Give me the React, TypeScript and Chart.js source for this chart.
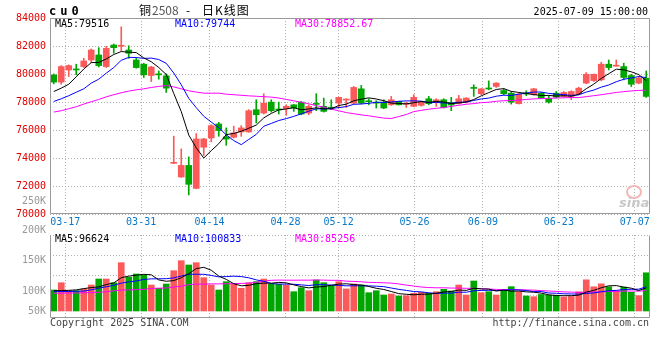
import React, { useEffect, useRef } from "react";
import { Chart, registerables } from "chart.js";

Chart.register(...registerables);

// ---------------- data ----------------
const dates = [
  "03-13","03-14","03-17","03-18","03-19","03-20","03-21","03-24","03-25","03-26",
  "03-27","03-28","03-31","04-01","04-02","04-03","04-07","04-08","04-09","04-10",
  "04-11","04-14","04-15","04-16","04-17","04-18","04-21","04-22","04-23","04-24",
  "04-25","04-28","04-29","04-30","05-06","05-07","05-08","05-09","05-12","05-13",
  "05-14","05-15","05-16","05-19","05-20","05-21","05-22","05-23","05-26","05-27",
  "05-28","05-29","05-30","06-03","06-04","06-05","06-06","06-09","06-10","06-11",
  "06-12","06-13","06-16","06-17","06-18","06-19","06-20","06-23","06-24","06-25",
  "06-26","06-27","06-30","07-01","07-02","07-03","07-04","07-07","07-08","07-09",
];

const opens = [
  79940,79420,80290,80310,80530,81000,81360,80530,82070,81980,
  81715,81000,80700,79890,79960,79870,73620,72640,73470,71830,
  74770,75430,76430,75500,75480,75860,75860,77450,77210,77990,
  77480,77520,77800,77990,77210,77870,77690,77600,77920,78140,
  77920,78940,78060,77950,77990,77800,78040,77830,77690,77760,
  78230,77990,78160,77950,77880,77990,79010,78590,78960,79110,
  78820,78630,77880,78610,78520,78630,78230,78630,78400,78400,
  78590,79350,79530,79580,80700,80560,80530,79890,79350,79700,
];
const highs = [
  80000,80600,80650,80700,81120,81790,81880,81980,82140,83370,
  82020,81120,80770,80550,80220,80010,75560,74650,74080,75740,
  75410,76380,76550,76150,76270,76310,77450,78160,78590,78160,
  77990,77800,77820,78040,77800,78590,78280,78160,78350,78230,
  79110,79180,78230,78090,78160,78400,78060,77990,78520,78050,
  78400,78230,78230,78330,78470,78300,79230,78960,79510,79380,
  78940,78750,78600,78800,78980,78680,78470,78750,78750,78800,
  79060,80100,80000,80840,81000,81000,80770,79980,79820,80220,
];
const lows = [
  79300,79270,79820,79940,80460,80815,80500,80460,81480,81670,
  81120,80410,79750,79460,79630,78680,73600,72620,71360,71800,
  74180,75150,75550,74910,75430,75550,75840,76500,77140,77280,
  77140,77050,77330,77090,77090,77380,77280,77450,77570,77610,
  77870,77870,77800,77570,77520,77760,77780,77610,77660,77700,
  77800,77690,77570,77380,77850,77930,78400,78520,78870,79040,
  78520,77850,77850,78450,78480,78240,77920,78280,78350,78160,
  78520,79300,79460,79510,80290,80550,79580,79110,79300,78330,
];
const closes = [
  79420,80530,80600,80290,80930,81715,80600,81830,81880,82000,
  81480,80460,79940,80500,79940,78990,73680,73470,72120,75360,
  75360,76310,75960,75350,75790,76150,77380,77090,77920,77380,
  77430,77690,77570,77140,77690,77830,77330,77560,78330,78170,
  79040,77920,78020,77920,77570,78160,77800,77870,78330,78000,
  77880,78160,77610,77780,78230,78280,78970,78940,78930,79350,
  78590,77990,78560,78570,78940,78280,77990,78350,78680,78750,
  78990,79980,79980,80700,80460,80600,79750,79270,79700,78400,
];

const ma5 = [
  78750,78990,79270,79800,80354,80813,80827,81073,81391,81605,
  81558,81530,81152,80876,80464,79966,78610,77316,75640,74724,
  73998,74524,75022,75668,75754,75912,76126,76352,76866,77184,
  77440,77502,77598,77442,77504,77584,77512,77510,77748,77844,
  78086,78204,78296,78214,78094,77918,77894,77864,77946,78032,
  77976,78048,77996,77886,77932,78012,78174,78440,78670,78894,
  78956,78760,78684,78612,78530,78468,78468,78426,78448,78410,
  78552,78950,79276,79680,80022,80344,80298,80156,79956,79516,
];
const ma10 = [
  78040,78230,78450,78700,78940,79350,79630,80060,80460,80980,
  81186,81179,81113,81134,81035,80762,80070,79234,78258,77594,
  76982,76567,76169,75654,75239,74955,75325,75687,76267,76469,
  76676,76814,76975,77154,77344,77512,77507,77554,77595,77674,
  77835,77858,77903,77981,77969,78002,78049,78080,78080,78063,
  77947,77971,77930,77916,77982,77994,78111,78218,78278,78413,
  78484,78467,78562,78641,78712,78712,78614,78555,78530,78470,
  78510,78709,78851,79063,79215,79447,79623,79715,79817,79744,
];
const ma30 = [
  77280,77380,77520,77660,77850,78020,78180,78370,78520,78660,
  78780,78870,78940,79040,79110,79180,79080,78940,78800,78710,
  78630,78630,78630,78560,78520,78480,78440,78410,78380,78348,
  78281,78186,78085,77980,77872,77742,77633,77491,77373,77245,
  77164,77079,77015,76929,76850,76822,76960,77107,77314,77402,
  77486,77548,77603,77684,77765,77836,77889,77951,77985,78051,
  78090,78100,78133,78181,78223,78238,78260,78286,78298,78317,
  78315,78384,78449,78520,78600,78680,78740,78790,78825,78852.67,
];

const volumes = [
  87500,117900,84600,84600,91700,108300,133300,133300,117900,201300,
  140400,154200,150000,108300,94600,112500,167900,209600,191700,201300,
  138800,108300,87500,122100,112500,94600,117900,122100,133300,111300,
  111300,108300,80400,97100,84600,129200,117900,106300,122100,91700,
  112500,108300,76300,84600,66700,70800,62500,63800,73800,77900,
  73800,80400,90400,83300,108300,66700,125000,76300,80400,66700,
  87500,101300,80400,62500,59600,68800,65800,65800,58300,60400,
  80000,130000,100800,113300,100800,84200,99200,77900,63800,159200,
];
const volMa5 = [
  85000,85000,86000,88000,93300,97400,100500,110200,116900,138800,
  145200,149400,152800,150800,129500,123900,126700,138600,155300,176600,
  181900,169900,145500,131600,113800,105000,106900,113800,116100,115800,
  119200,117300,108900,101700,96300,99900,101800,107000,112000,113400,
  110100,108200,102200,94700,89700,81300,72200,69700,67500,69800,
  70400,73900,79300,81200,87200,85800,94700,91900,91300,83000,
  87200,82400,83300,79700,78300,74500,67400,64500,63700,63800,
  66100,78900,85900,96900,105000,105800,99700,95100,85200,96624,
];
const volMa10 = [
  81000,81000,81500,82000,83000,88000,95000,101000,107000,116000,
  121300,125000,131500,133900,134200,134600,138000,145700,153100,153100,
  152900,148300,142100,143400,145200,143400,138400,129700,123800,114800,
  112100,112100,111400,108900,106100,109600,109600,108000,106900,104900,
  105000,105000,104600,103400,101600,95700,90200,85900,81100,79700,
  75900,73100,74500,74300,78500,78100,84300,85600,86300,85100,
  86500,88600,87600,85500,80600,80900,74900,73900,71700,71000,
  70300,73200,75200,80300,84400,85900,89300,90500,91000,100833,
];
const volMa30 = [
  74000,74000,75000,75000,76000,77000,78000,80000,84000,87000,
  88000,89000,90000,94000,95000,96000,100000,103000,110000,112000,
  112000,113000,113000,114000,114000,115000,116000,120000,124000,128000,
  128800,128500,128300,128700,128500,129200,128700,127800,127900,124300,
  123300,121800,119300,118600,117600,116200,112700,107900,103900,99800,
  97700,96700,96800,95500,95400,94500,94700,93200,91400,89900,
  89100,88900,88900,87700,86900,84900,83200,81800,79700,78600,
  77500,78300,79100,80000,81200,81600,82900,83300,83000,85256,
];

const dateTicks = ["03-17","03-31","04-14","04-28","05-12","05-26","06-09","06-23","07-07"];
const priceMin = 70000;
const priceMax = 84000;
const priceStep = 2000;
const volumeAxisLabels = ["200K", "150K", "100K", "50K"];
const strayLabel = "250K";

// ---------------- styles ----------------
const MONO = '"DejaVu Sans Mono", "Liberation Mono", monospace';
const CJK = '"Noto Sans CJK SC", "Noto Sans", sans-serif';
const UP = "#fa5a5a";
const DOWN = "#00a600";
const GRID = "#b0b0b0";
const FRAME = "#9a9a9a";
const DATE_BLUE = "#0a78c8";
const VOL_MIN = -29200;
const VOL_MAX = 316700;
const VOL_GRID_STEP = 84600;

const candleColors = dates.map((_, i) => (closes[i] >= opens[i] ? UP : DOWN));

function framePlugin(dottedTop: boolean) {
  return {
    id: "frame",
    afterDraw(chart: any) {
      const { ctx, chartArea: a } = chart;
      const l = Math.round(a.left) + 0.5;
      const r = Math.round(a.right) - 0.5;
      const t = Math.round(a.top) + 0.5;
      const b = Math.round(a.bottom) - 0.5;
      ctx.save();
      ctx.strokeStyle = FRAME;
      ctx.lineWidth = 1;
      ctx.setLineDash([]);
      ctx.beginPath();
      ctx.moveTo(l, t);
      ctx.lineTo(l, b);
      ctx.lineTo(r, b);
      ctx.lineTo(r, t);
      if (!dottedTop) ctx.lineTo(l, t);
      ctx.stroke();
      ctx.restore();
    },
  };
}

const hiddenX = { type: "category", offset: true, display: false };

function dateAxis(showLabels: boolean) {
  return {
    type: "category",
    axis: "x",
    offset: false,
    position: "bottom",
    grid: { color: GRID, drawTicks: false, offset: false, lineWidth: 1 },
    border: { display: false, dash: [1, 2] },
    ticks: {
      display: showLabels,
      autoSkip: false,
      maxRotation: 0,
      minRotation: 0,
      padding: 2,
      color: DATE_BLUE,
      font: { family: MONO, size: 10 },
    },
    afterBuildTicks: (s: any) => {
      s.ticks = s.ticks.filter((t: any) => dateTicks.includes(dates[t.value]));
    },
    afterFit: (s: any) => {
      s.height = showLabels ? 21 : 0;
    },
  };
}

function maLine(data: number[], color: string) {
  return {
    type: "line",
    data,
    borderColor: color,
    backgroundColor: color,
    borderWidth: 1,
    pointRadius: 0,
    tension: 0,
    fill: false,
    order: 0,
    xAxisID: "x",
    yAxisID: "y",
  };
}

function Txt(props: any) {
  const { x, y, right, color = "#000", size = 10, bold, family = MONO, ls, italic, children } = props;
  const style: any = {
    position: "absolute",
    top: y,
    font: `${italic ? "italic " : ""}${bold ? "bold " : ""}${size}px ${family}`,
    lineHeight: `${size}px`,
    color,
    whiteSpace: "pre",
    letterSpacing: ls,
  };
  if (right) style.right = 660 - x;
  else style.left = x;
  return <div style={style}>{children}</div>;
}

export default function App() {
  const priceRef = useRef<HTMLCanvasElement>(null);
  const volRef = useRef<HTMLCanvasElement>(null);

  useEffect(() => {
    const priceChart = new Chart(priceRef.current as HTMLCanvasElement, {
      type: "bar",
      data: {
        labels: dates,
        datasets: [
          maLine(ma5, "#000000"),
          maLine(ma10, "#0000ff"),
          maLine(ma30, "#ff00ff"),
          {
            type: "bar",
            data: dates.map((_, i) => [opens[i], closes[i]]),
            backgroundColor: candleColors,
            barThickness: 6,
            minBarLength: 1,
            grouped: false,
            borderWidth: 0,
            order: 1,
            xAxisID: "x",
            yAxisID: "y",
          },
          {
            type: "bar",
            data: dates.map((_, i) => [lows[i], highs[i]]),
            backgroundColor: candleColors,
            barThickness: 1,
            grouped: false,
            borderWidth: 0,
            order: 2,
            xAxisID: "x",
            yAxisID: "y",
          },
        ] as any,
      },
      options: {
        animation: false,
        responsive: false,
        devicePixelRatio: 1,
        events: [],
        layout: { padding: { top: 18, right: 10, bottom: 125, left: 0 } },
        plugins: { legend: { display: false }, tooltip: { enabled: false } },
        scales: {
          x: hiddenX,
          xg: dateAxis(true),
          y: {
            type: "linear",
            min: priceMin,
            max: priceMax,
            ticks: {
              stepSize: priceStep,
              padding: 4,
              color: "#e00000",
              font: { family: MONO, size: 10 },
              callback: (v: any) => String(v),
            },
            grid: { color: GRID, drawTicks: false, lineWidth: 1 },
            border: { display: false, dash: [1, 2] },
            afterFit: (s: any) => {
              s.width = 50;
            },
          },
        } as any,
      },
      plugins: [framePlugin(false)],
    });

    const volChart = new Chart(volRef.current as HTMLCanvasElement, {
      type: "bar",
      data: {
        labels: dates,
        datasets: [
          maLine(volMa5, "#000000"),
          maLine(volMa10, "#0000ff"),
          maLine(volMa30, "#ff00ff"),
          {
            type: "bar",
            data: volumes,
            backgroundColor: candleColors,
            barThickness: 6,
            grouped: false,
            borderWidth: 0,
            order: 1,
            xAxisID: "x",
            yAxisID: "y",
          },
        ] as any,
      },
      options: {
        animation: false,
        responsive: false,
        devicePixelRatio: 1,
        events: [],
        layout: { padding: { top: 235, right: 10, bottom: 42, left: 0 } },
        plugins: { legend: { display: false }, tooltip: { enabled: false } },
        scales: {
          x: hiddenX,
          xg: dateAxis(false),
          y: {
            type: "linear",
            min: VOL_MIN,
            max: VOL_MAX,
            ticks: { display: false },
            grid: { color: GRID, drawTicks: false, lineWidth: 1 },
            border: { display: false, dash: [1, 2] },
            afterBuildTicks: (s: any) => {
              s.ticks = [0, 1, 2, 3].map((k) => ({ value: VOL_MAX - k * VOL_GRID_STEP }));
            },
            afterFit: (s: any) => {
              s.width = 50;
            },
          },
        } as any,
      },
      plugins: [framePlugin(true)],
    });

    return () => {
      priceChart.destroy();
      volChart.destroy();
    };
  }, []);

  const last = dates.length - 1;
  const volLabelCenters = [230, 259.5, 290.5, 310.5];
  const titleStyle: any = {
    position: "absolute",
    top: 3,
    font: `12px ${CJK}`,
    lineHeight: "14px",
    whiteSpace: "pre",
    color: "#000",
  };

  return (
    <div
      style={{
        position: "fixed",
        left: 0,
        top: 0,
        width: 660,
        height: 360,
        background: "#fff",
        overflow: "hidden",
      }}
    >
      <canvas ref={priceRef} width={660} height={360} style={{ position: "absolute", left: 0, top: 0 }} />
      <canvas ref={volRef} width={660} height={360} style={{ position: "absolute", left: 0, top: 0 }} />

      {/* header */}
      <Txt x={49} y={5} size={12} bold ls="4px">cu0</Txt>
      <div style={{ ...titleStyle, left: 139 }}>铜</div>
      <div style={{ ...titleStyle, left: 152, color: "#555" }}>2508</div>
      <div style={{ ...titleStyle, left: 186 }}>-</div>
      <div style={{ ...titleStyle, left: 202, letterSpacing: "1px" }}>日K线图</div>
      <Txt x={648} y={6.5} right>2025-07-09 15:00:00</Txt>

      {/* price legend */}
      <Txt x={55} y={18.5} color="#000">{`MA5:${ma5[last]}`}</Txt>
      <Txt x={175} y={18.5} color="#0000ff">{`MA10:${ma10[last]}`}</Txt>
      <Txt x={295} y={18.5} color="#ff00ff">{`MA30:${ma30[last]}`}</Txt>

      {/* stray label and volume axis labels */}
      <Txt x={46} y={200.5 - 4.8} right color="#999">{strayLabel}</Txt>
      {volumeAxisLabels.map((t, i) => (
        <Txt key={t} x={46} y={volLabelCenters[i] - 4.8} right color="#999">
          {t}
        </Txt>
      ))}

      {/* volume legend */}
      <Txt x={55} y={233.5} color="#000">{`MA5:${volMa5[last]}`}</Txt>
      <Txt x={175} y={233.5} color="#0000ff">{`MA10:${volMa10[last]}`}</Txt>
      <Txt x={295} y={233.5} color="#ff00ff">{`MA30:${volMa30[last]}`}</Txt>

      {/* sina watermark */}
      <div
        style={{
          position: "absolute",
          left: 626,
          top: 185,
          width: 12,
          height: 10,
          borderRadius: "50%",
          border: "2px solid #f2b8b8",
        }}
      />
      <Txt x={619} y={196} size={13} bold italic family='"DejaVu Sans", sans-serif' color="#c8c8c8">
        sina
      </Txt>

      {/* footer */}
      <Txt x={50} y={318} color="#444">Copyright 2025 SINA.COM</Txt>
      <Txt x={649} y={318} right color="#444">http://finance.sina.com.cn</Txt>
    </div>
  );
}
